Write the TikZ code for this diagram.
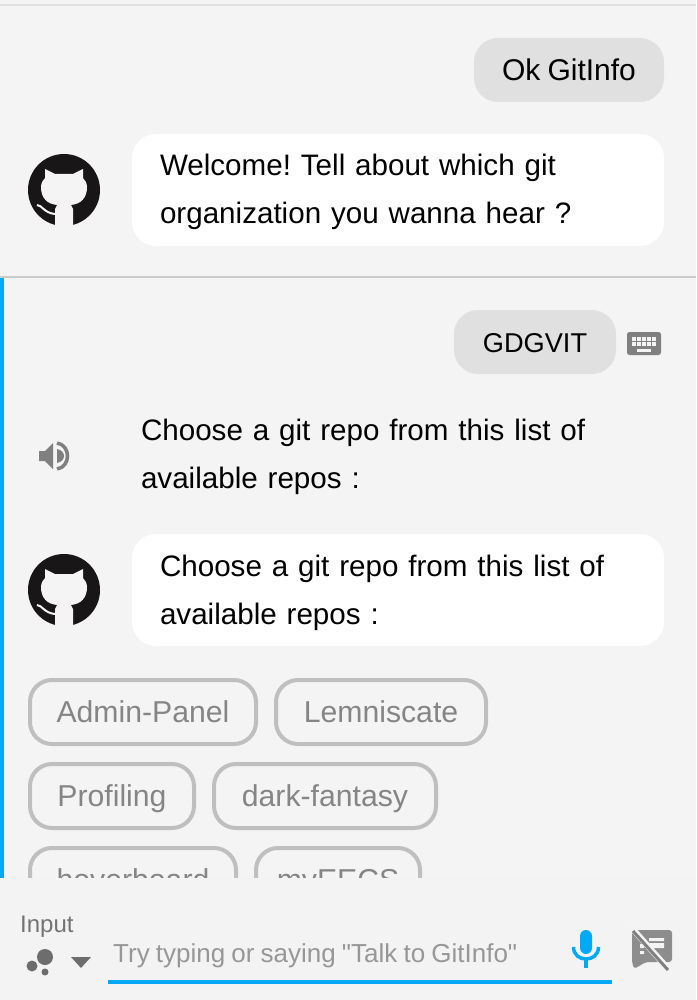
\documentclass[tikz,border=0pt]{standalone}
\usepackage{fontspec}
\setmainfont[WordSpace=0.85,Ligatures=TeXOff]{Liberation Sans}
\usetikzlibrary{positioning}
\definecolor{chatBack}{HTML}{F4F4F4}
\definecolor{chatPanel}{HTML}{F3F3F3}
\definecolor{chatRule}{HTML}{CBCBCB}
\definecolor{chatUser}{HTML}{E0E0E0}
\definecolor{chatBlue}{HTML}{03A9F4}
\definecolor{chatChip}{HTML}{BFBFBF}
\definecolor{chatChipText}{HTML}{858585}
\definecolor{chatIcon}{HTML}{808080}
\definecolor{chatLogo}{HTML}{181616}
\begin{document}
\frenchspacing
\begin{tikzpicture}[x=1pt,y=-1pt,
    msgtext/.style={inner ysep=0pt,inner xsep=0pt,text width=476pt,align=left,text height=21pt,text depth=49pt,font=\fontsize{29.6}{48}\selectfont},
    bubble/.style={msgtext,fill=white,rounded corners=24pt,inner xsep=28pt,minimum height=112pt},
    userbubble/.style={fill=chatUser,rounded corners=24pt,inner sep=0pt,minimum height=64pt,font=\fontsize{30}{36}\selectfont,text height=21pt,text depth=0pt},
    chip/.style={draw=chatChip,line width=4pt,rounded corners=22pt,inner sep=0pt,minimum height=64pt,text=chatChipText,font=\fontsize{30.2}{36}\selectfont,text height=21pt,text depth=0pt}]
    \useasboundingbox (0,0) rectangle (696,1000);
    \fill[chatBack] (0,0) rectangle (696,1000);
    \fill[chatUser] (0,4) rectangle (696,6);
    \fill[chatRule] (0,276) rectangle (696,278);
    \fill[chatBlue] (0,278) rectangle (4,878);
    % messages
    \node[userbubble,minimum width=190pt] (ok) at (569,70) {Ok GitInfo};
    \node[bubble] (welcome) at (398,190) {Welcome! Tell about which git\\organization you wanna hear ?};
    \node[userbubble,minimum width=162pt,font=\fontsize{27.2}{36}\selectfont] (gdg) at (535,342) {GDGVIT};
    \node[msgtext] (spoken) at (379,454) {Choose a git repo from this list of\\available repos :};
    \node[bubble] (choose) at (398,590) {Choose a git repo from this list of\\available repos :};
    % chips
    \node[chip,minimum width=226pt] (admin) at (143,712) {Admin-Panel};
    \node[chip,minimum width=210pt] (lemni) at (381,712) {Lemniscate};
    \node[chip,minimum width=164pt] (prof) at (112,796) {Profiling};
    \node[chip,minimum width=222pt] (dark) at (325,796) {dark-fantasy};
    \node[chip,minimum width=206pt] (hover) at (133,880) {hoverboard};
    \node[chip,minimum width=164pt] (eecs) at (338,880) {myEECS};
    % logos
    \foreach \logoy in {190,590} {
      \begin{scope}[shift={(64,\logoy)}]
        \fill[chatLogo] (0,0) circle[radius=36];
        \fill[chatBack] (-9,37) -- (-9,19) -- (-7,15) .. controls (-17,14) and (-23,8) .. (-23,-3)
          .. controls (-23,-7) and (-21,-10) .. (-19,-12) -- (-19,-21) -- (-9,-16) -- (9,-16) -- (19,-21) -- (19,-12)
          .. controls (21,-10) and (23,-7) .. (23,-3) .. controls (23,8) and (17,14) .. (7,15) -- (9,19) -- (9,37) -- cycle;
        \draw[chatBack,line width=2pt] (-27,15) .. controls (-22,15) and (-20,23) .. (-9,24);
      \end{scope}
    }
    % keyboard
    \fill[chatIcon,rounded corners=2.5pt] (627,332) rectangle (661,355);
    \foreach \keyx in {0,...,4}
      \foreach \keyy in {0,1}
        \fill[chatBack] (632+5*\keyx,337+5*\keyy) rectangle ++(4,4);
    \fill[chatBack] (637,349) rectangle (651,352);
    % speaker
    \fill[chatIcon] (39,451) -- (45,451) -- (53,443) -- (53,469) -- (45,461) -- (39,461) -- cycle;
    \fill[chatIcon] (57,449) .. controls (62,450) and (64,453) .. (64,456) .. controls (64,459) and (62,462) .. (57,463) -- cycle;
    \draw[chatIcon,line width=3.5pt] (57,443) .. controls (64,444) and (67.5,450) .. (67.5,456) .. controls (67.5,462) and (64,468) .. (57,469);
    % input panel
    \fill[chatPanel] (0,878) rectangle (696,1000);
    \node[anchor=base west,inner sep=0pt,text=chatIcon!90!black,font=\fontsize{24}{26}\selectfont] (inputlabel) at (20,932) {Input};
    \fill[chatIcon!85!black] (45,957) circle[radius=8] (32,966) circle[radius=5.5] (45,972) circle[radius=3.5];
    \fill[chatIcon!85!black] (71,957) -- (91,957) -- (81,968) -- cycle;
    \node[anchor=base west,inner sep=0pt,text=chatChipText!85!white,font=\fontsize{26}{30}\selectfont] (hint) at (113,962) {Try typing or saying "Talk to GitInfo"};
    \fill[chatBlue] (108,980) rectangle (612,984);
    % mic
    \fill[chatBlue,rounded corners=6pt] (580,930) rectangle (592,954);
    \draw[chatBlue,line width=3.5pt] (573.5,947) .. controls (573.5,963) and (598.5,963) .. (598.5,947);
    \fill[chatBlue] (584,958) rectangle (588,968);
    % chat off
    \fill[chatIcon!90!white,rounded corners=3pt] (632,962) -- (632,930) -- (672,930) -- (672,962) -- (646,962) -- (634,969) -- cycle;
    \fill[chatBack] (649,938) rectangle (664,941) (649,943) rectangle (664,948) (640,944) rectangle (644,948) (640,951) rectangle (644,954);
    \draw[chatBack,line width=6pt] (630,926) -- (671,972);
    \draw[chatIcon,line width=3pt] (633,931) -- (668,970);
  \end{tikzpicture}
\end{document}
